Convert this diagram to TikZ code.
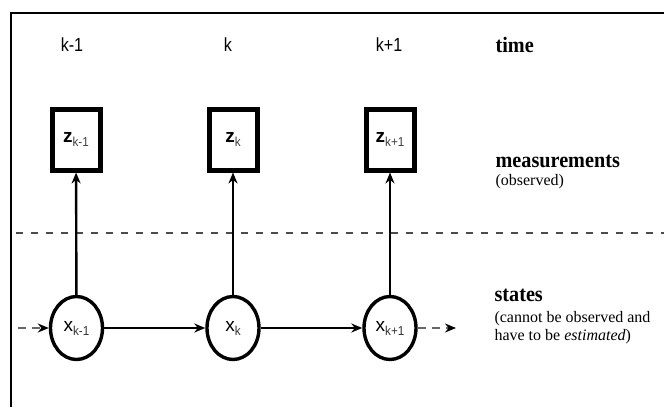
\documentclass[tikz,border=0pt]{standalone}
\usepackage{fontspec}
\setmainfont{Liberation Serif}
\setsansfont{Liberation Sans}
\usetikzlibrary{arrows.meta,shapes.geometric}

% variables with a lowered index, e.g. z_{k-1}
\newcommand{\zlab}[1]{{\sffamily\bfseries\fontsize{19}{19}\selectfont z}{\sffamily\fontsize{13}{13}\selectfont\color{black!75}\raisebox{-4pt}{\scalebox{0.9}[1]{#1}}}}
\newcommand{\xlab}[1]{{\sffamily\fontsize{19}{19}\selectfont x}{\sffamily\fontsize{13}{13}\selectfont\color{black!80}\raisebox{-4pt}{\scalebox{0.9}[1]{#1}}}}

\begin{document}
\begin{tikzpicture}[x=1pt,y=-1pt,
  measbox/.style={draw, line width=5pt, minimum width=48pt, minimum height=61pt, inner sep=0pt},
  statenode/.style={draw, ellipse, line width=3.4pt, minimum width=52pt, minimum height=63pt, inner sep=0pt},
  timelab/.style={font=\sffamily\fontsize{19}{19}\selectfont},
  flow/.style={line width=2.4pt, -{Stealth[length=11pt,width=9pt]}},
  loose/.style={line width=2.4pt, draw=black!60, dash pattern=on 8pt off 6pt, -{Stealth[length=11pt,width=9pt,color=black]}},
  headword/.style={anchor=base west, font=\bfseries\fontsize{22}{22}\selectfont},
  note/.style={anchor=base west, font=\fontsize{16}{18}\selectfont, align=left}
]
\useasboundingbox (0,0) rectangle (664,407);
\fill[white] (0,0) rectangle (664,407);

% frame
\draw[line width=1.8pt] (11,407) -- (11,13) -- (664,13);

% time axis
\node[timelab] (t1) at (72,45) {\scalebox{0.85}[1]{k-1}};
\node[timelab] (t2) at (228,45) {\scalebox{0.85}[1]{k}};
\node[timelab] (t3) at (389,45) {\scalebox{0.85}[1]{k+1}};
\node[headword] (time) at (492,52) {\scalebox{0.92}[1]{time}};

% measurements
\node[measbox] (z1) at (76,139.5) {\zlab{k-1}};
\node[measbox] (z2) at (233,139.5) {\zlab{k}};
\node[measbox] (z3) at (390,139.5) {\zlab{k+1}};
\node[headword] (meas) at (492,167) {\scalebox{0.92}[1]{measurements}};
\node[note] (obs) at (492,185) {(observed)};

% divider between observed and hidden quantities
\draw[line width=2.4pt, draw=black!70, dash pattern=on 7pt off 8pt] (16,233) -- (664,233);

% states
\node[statenode] (x1) at (76.5,328) {\xlab{k-1}};
\node[statenode] (x2) at (233,328) {\xlab{k}};
\node[statenode] (x3) at (390,328) {\xlab{k+1}};
\node[headword] (st) at (491,301) {\scalebox{0.92}[1]{states}};
\node[note, anchor=north west] (stnote) at (491,308) {(cannot be observed and\\have to be \textit{estimated})};

% transitions
\coordinate (in) at (18,328);
\coordinate (out) at (456,328);
\draw[loose] (in) -- (x1);
\draw[flow] (x1) -- (x2);
\draw[flow] (x2) -- (x3);
\draw[loose] (x3) -- (out);

% observations
\draw[flow] (x1) -- (z1);
\draw[flow] (x2) -- (z2);
\draw[flow, line width=1.4pt] (x3) -- (z3);
\end{tikzpicture}
\end{document}
